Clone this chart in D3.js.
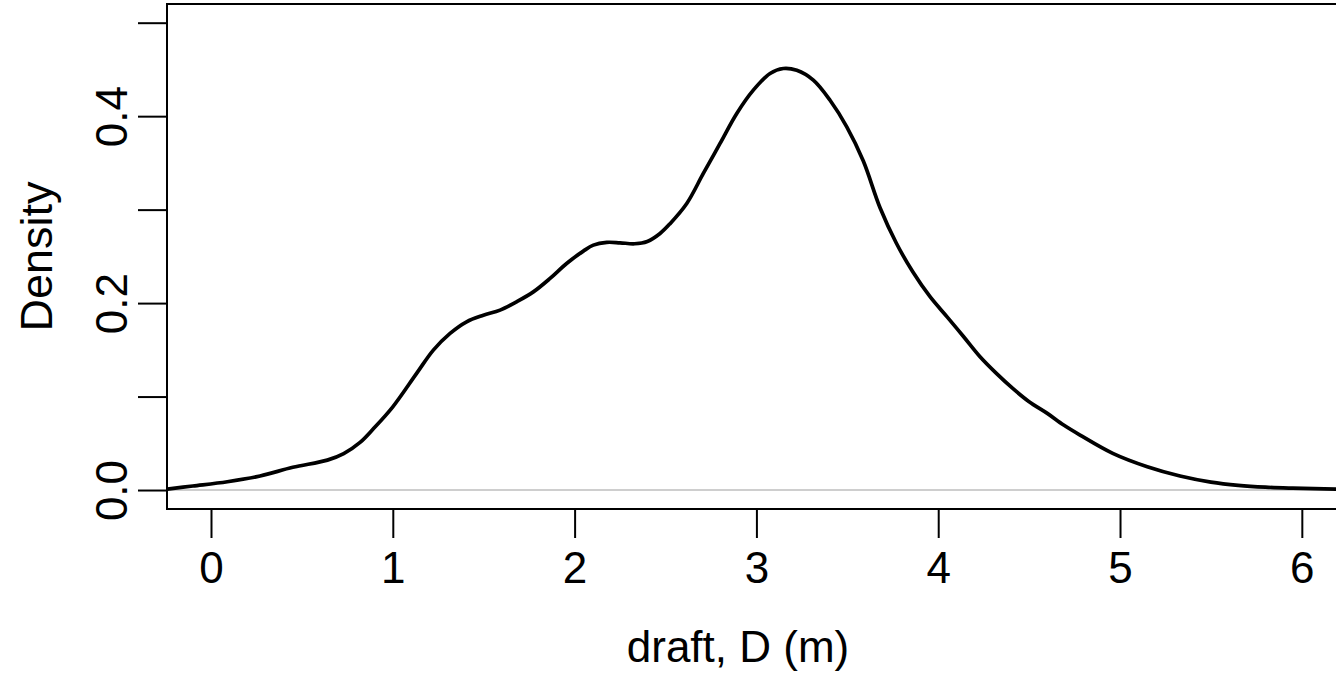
<!DOCTYPE html>
<html><head><meta charset="utf-8">
<script src="https://cdn.jsdelivr.net/npm/d3@7"></script>
<style>body{margin:0;background:#fff}svg{display:block}text{font-family:"Liberation Sans",Arial,Helvetica,sans-serif;fill:#000}</style>
</head><body>
<script>
const draft = [-0.24, -0.10, 0.09, 0.27, 0.45, 0.64, 0.73, 0.82, 0.893, 1.00, 1.131, 1.223, 1.315, 1.406, 1.498, 1.590, 1.681, 1.773, 1.865, 1.956, 2.048, 2.103, 2.177, 2.25, 2.33, 2.40, 2.47, 2.525, 2.617, 2.708, 2.80, 2.892, 2.983, 3.075, 3.148, 3.222, 3.313, 3.405, 3.497, 3.588, 3.68, 3.77, 3.86, 3.955, 4.05, 4.14, 4.23, 4.32, 4.41, 4.50, 4.60, 4.69, 4.78, 4.96, 5.15, 5.33, 5.50, 5.65, 5.80, 5.95, 6.19, 6.45];
const density = [0.001, 0.0043, 0.0089, 0.015, 0.0243, 0.032, 0.039, 0.051, 0.0655, 0.089, 0.1248, 0.1497, 0.1676, 0.180, 0.187, 0.1925, 0.2014, 0.212, 0.2264, 0.2424, 0.2556, 0.262, 0.265, 0.2645, 0.2635, 0.266, 0.2745, 0.285, 0.3066, 0.3387, 0.3708, 0.4029, 0.4278, 0.4457, 0.451, 0.449, 0.4385, 0.417, 0.3886, 0.352, 0.302, 0.264, 0.2335, 0.2068, 0.185, 0.164, 0.1426, 0.1248, 0.1087, 0.0945, 0.082, 0.0695, 0.0588, 0.0392, 0.0249, 0.0150, 0.0085, 0.0050, 0.0030, 0.0020, 0.0010, 0.0005];
const xTicks = [0, 1, 2, 3, 4, 5, 6];
const yTicks = [0, 0.1, 0.2, 0.3, 0.4, 0.5];
const yTickLabels = ["0.0", "", "0.2", "", "0.4", ""];
const xTitle = "draft, D (m)";
const yTitle = "Density";

const W = 1336, H = 673;
const svg = d3.select("body").append("svg").attr("width", W).attr("height", H);
const x = d3.scaleLinear().domain([-0.242, 6.452]).range([167, 1384]);
const y = d3.scaleLinear().domain([-0.0203, 0.52]).range([509, 4]);

// zero reference line
svg.append("line").attr("x1", x(-0.242)).attr("x2", W).attr("y1", y(0)).attr("y2", y(0))
  .attr("stroke", "#bebebe").attr("stroke-width", 1.5);

// density curve
const pts = draft.map((d, i) => [d, density[i]]);
svg.append("path").datum(pts)
  .attr("d", d3.line().x(d => x(d[0])).y(d => y(d[1])).curve(d3.curveCatmullRom.alpha(0.5)))
  .attr("fill", "none").attr("stroke", "#000").attr("stroke-width", 3.7).attr("stroke-linejoin", "round");

// box
svg.append("rect").attr("x", x(-0.242)).attr("y", y(0.52)).attr("width", x(6.452) - x(-0.242)).attr("height", y(-0.0203) - y(0.52))
  .attr("fill", "none").attr("stroke", "#000").attr("stroke-width", 2);

// x axis
const xAxis = d3.axisBottom(x).tickValues(xTicks).tickSize(29).tickFormat(d3.format("d"));
const gx = svg.append("g").attr("transform", `translate(0,${y(-0.0203)})`).call(xAxis);
gx.select(".domain").remove();
gx.selectAll(".tick line").attr("stroke", "#000").attr("stroke-width", 2);
gx.selectAll(".tick text").attr("font-size", 44).attr("font-family", "Liberation Sans").attr("dy", null).attr("y", 74);

// y axis
const yAxis = d3.axisLeft(y).tickValues(yTicks).tickSize(29).tickFormat((d, i) => yTickLabels[i]);
const gy = svg.append("g").attr("transform", `translate(${x(-0.242)},0)`).call(yAxis);
gy.select(".domain").remove();
gy.selectAll(".tick line").attr("stroke", "#000").attr("stroke-width", 2);
gy.selectAll(".tick text").attr("font-size", 44).attr("font-family", "Liberation Sans")
  .attr("x", null).attr("dy", null).attr("text-anchor", "middle")
  .attr("transform", "translate(-40,0) rotate(-90)");

// titles
svg.append("text").attr("x", 738).attr("y", 662).attr("text-anchor", "middle").attr("font-size", 44).text(xTitle);
svg.append("text").attr("transform", `translate(52,${(y(0.52) + y(-0.0203)) / 2}) rotate(-90)`)
  .attr("text-anchor", "middle").attr("font-size", 45).text(yTitle);
</script>
</body></html>
